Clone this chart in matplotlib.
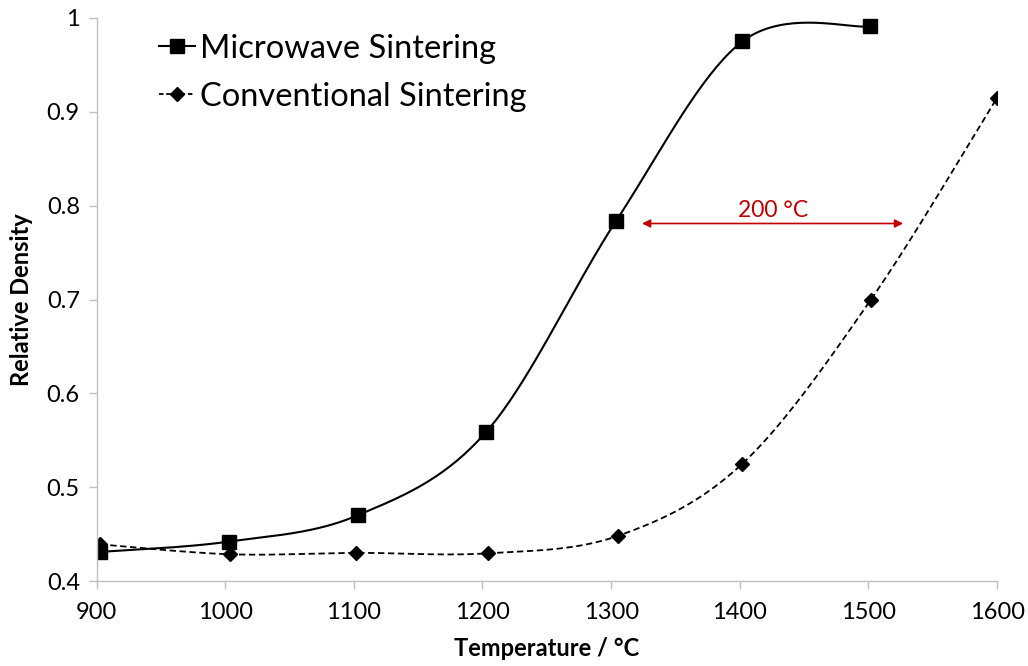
import matplotlib
matplotlib.use('Agg')
import matplotlib.pyplot as plt
import numpy as np

#====Data====
temp_mw = [903, 1003, 1103, 1203, 1304, 1402, 1501]
dens_mw = [0.431, 0.442, 0.470, 0.559, 0.784, 0.975, 0.991]

temp_cv = [903, 1004, 1102, 1204, 1305, 1402, 1502, 1600]
dens_cv = [0.439, 0.4285, 0.430, 0.4295, 0.448, 0.525, 0.700, 0.915]

x_ticks = [900, 1000, 1100, 1200, 1300, 1400, 1500, 1600]
y_ticks = [0.4, 0.5, 0.6, 0.7, 0.8, 0.9, 1.0]

#====Excel-like smoothed line (Catmull-Rom as Bezier)====
def smooth(x, y, n=40):
    p = np.column_stack([x, y]).astype(float)
    p = np.vstack([p[0], p, p[-1]])
    out = []
    for i in range(1, len(p) - 2):
        p0 = p[i]
        p3 = p[i + 1]
        c1 = p0 + (p[i + 1] - p[i - 1]) / 6.0
        c2 = p3 - (p[i + 2] - p[i]) / 6.0
        t = np.linspace(0, 1, n)[:, None]
        seg = (1 - t)**3 * p0 + 3 * (1 - t)**2 * t * c1 + 3 * (1 - t) * t**2 * c2 + t**3 * p3
        out.append(seg)
    s = np.vstack(out)
    return s[:, 0], s[:, 1]

plt.rcParams['font.family'] = ['Lato', 'DejaVu Sans']

fig = plt.figure(figsize=(10.28, 6.66), dpi=100)
ax = fig.add_axes([0.0939, 0.1276, 0.876, 0.8454])

xs, ys = smooth(temp_mw, dens_mw)
ax.plot(xs, ys, color='black', lw=1.5)
ax.plot(temp_mw, dens_mw, ls='none', marker='s', ms=9.5, color='black')

xs, ys = smooth(temp_cv, dens_cv)
ax.plot(xs, ys, color='black', lw=1.3, ls=(0, (3.5, 2)))
ax.plot(temp_cv, dens_cv, ls='none', marker='D', ms=7, color='black')

# legend handles
h1, = ax.plot([], [], color='black', lw=1.5, marker='s', ms=9.5)
h2, = ax.plot([], [], color='black', lw=1.3, ls=(0, (2.5, 1.5)), marker='D', ms=7)
ax.legend([h1, h2], ['Microwave Sintering', 'Conventional Sintering'],
          loc='upper left', bbox_to_anchor=(0.136, 0.979), bbox_transform=fig.transFigure,
          frameon=False, fontsize=23.5, handlelength=1.1, handletextpad=0.15,
          labelspacing=0.55, borderaxespad=0.2)

# 200 degC arrow
ax.annotate('', xy=(1324, 0.781), xytext=(1527, 0.781),
            arrowprops=dict(arrowstyle='<|-|>', color='#c00000', lw=1.2,
                            mutation_scale=12, shrinkA=0, shrinkB=0))
ax.text(1426, 0.784, '200 °C', color='#c00000', fontsize=16.5, ha='center', va='bottom')

ax.set_xlim(900, 1600)
ax.set_ylim(0.4, 1.0)
ax.set_xticks(x_ticks)
ax.set_yticks(y_ticks)
ax.set_yticklabels(['0.4', '0.5', '0.6', '0.7', '0.8', '0.9', '1'])
ax.tick_params(axis='both', direction='out', length=6, width=1, color='#bfbfbf',
               labelsize=17)
ax.tick_params(axis='x', pad=9)
ax.tick_params(axis='y', pad=6)
for side in ['top', 'right']:
    ax.spines[side].set_visible(False)
for side in ['left', 'bottom']:
    ax.spines[side].set_color('#bfbfbf')
    ax.spines[side].set_linewidth(1)

ax.set_xlabel('Temperature / °C', fontsize=17, fontweight='bold', labelpad=10)
ax.set_ylabel('Relative Density', fontsize=17, fontweight='bold', labelpad=10)

fig.savefig('out.png', dpi=100)
